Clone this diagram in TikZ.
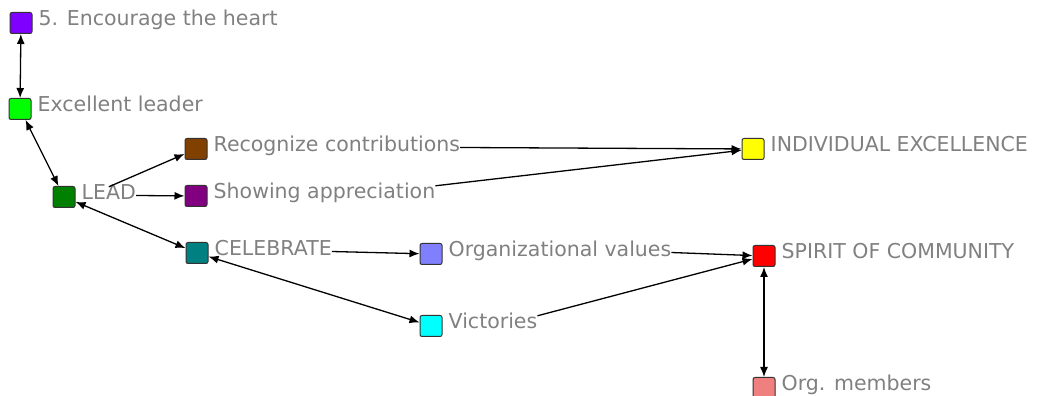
\documentclass[tikz,border=0pt]{standalone}
\usepackage{fontspec}
\setmainfont{DejaVu Sans}
\usetikzlibrary{arrows.meta}
\definecolor{lblgray}{RGB}{128,128,128}
\definecolor{cHeart}{HTML}{8000FF}
\definecolor{cExcel}{HTML}{00FF00}
\definecolor{cLead}{HTML}{008000}
\definecolor{cRecog}{HTML}{804000}
\definecolor{cAppr}{HTML}{800080}
\definecolor{cIndiv}{HTML}{FFFF00}
\definecolor{cCeleb}{HTML}{008080}
\definecolor{cOrgv}{HTML}{8080FF}
\definecolor{cVict}{HTML}{00FFFF}
\definecolor{cSpirit}{HTML}{FF0000}
\definecolor{cMemb}{HTML}{F08080}
\tikzset{
  sq/.style={draw=black!80, rounded corners=2pt, minimum width=22pt, minimum height=21pt, inner sep=0pt, line width=1pt},
  lbl/.style={anchor=west, inner sep=0pt, text=lblgray, font=\fontsize{20.5}{21}\selectfont, text height=13pt, text depth=4pt},
  link/.style={line width=1.3pt, -{Latex[length=10pt,width=8pt]}},
  both/.style={line width=1.3pt, {Latex[length=10pt,width=8pt]}-{Latex[length=10pt,width=8pt]}}
}
\begin{document}
\begin{tikzpicture}[x=1pt,y=1pt]
\useasboundingbox (0,0) rectangle (1060,396);
% squares with their labels
\foreach \n/\x/\y/\c/\t in {heart/21/373/cHeart/5. Encourage the heart, excel/20/287/cExcel/Excellent leader,
    lead/64/199/cLead/LEAD, recog/196/247/cRecog/Recognize contributions, appr/196/200/cAppr/Showing appreciation,
    indiv/753/247/cIndiv/INDIVIDUAL EXCELLENCE, celeb/197/143/cCeleb/CELEBRATE, orgv/431/142/cOrgv/Organizational values,
    vict/431/70/cVict/Victories, spirit/764/140/cSpirit/SPIRIT OF COMMUNITY, memb/764/8/cMemb/Org. members}{
  \node[sq, fill=\c] (\n) at (\x,\y) {};
  \node[lbl] (\n-t) at ([xshift=6pt,yshift=1.5pt]\n.east) {\t};
}
% links
\draw[both] (heart) -- (excel);
\draw[both] (excel) -- (lead);
\draw[link] (lead-t.north) -- (recog);
\draw[link] (lead-t.east) -- (appr);
\draw[link] (recog-t.east) -- (indiv);
\draw[link] (appr-t.north east) -- (indiv);
\draw[both] (lead) -- (celeb);
\draw[link] (celeb-t.east) -- (orgv);
\draw[both] (celeb) -- (vict);
\draw[link] (orgv-t.east) -- (spirit);
\draw[link] (vict-t.north east) -- (spirit);
\draw[both] (spirit) -- (memb);
\end{tikzpicture}
\end{document}
